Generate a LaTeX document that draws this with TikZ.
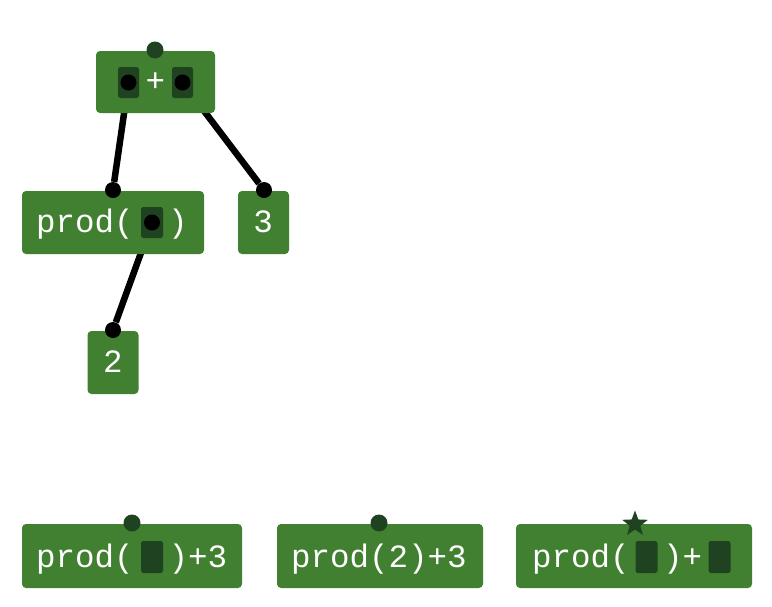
\documentclass[tikz,border=0pt]{standalone}
\usepackage{fontspec}
\newfontfamily\codefont{Liberation Mono}
\usetikzlibrary{shapes.geometric,backgrounds}
\definecolor{boxgreen}{HTML}{408030}
\definecolor{holegreen}{HTML}{1F4220}
\tikzset{
    block/.style={fill=boxgreen, rounded corners=4pt, inner sep=0pt, minimum height=63pt},
    hole/.style={fill=holegreen, rounded corners=2.5pt, inner sep=0pt, minimum width=21pt, minimum height=31pt},
    plug/.style={circle, fill=black, inner sep=0pt, minimum size=16pt},
    knob/.style={circle, fill=holegreen, inner sep=0pt, minimum size=17pt},
    codetext/.style={text=white, inner sep=0pt, font=\codefont\fontsize{32.5}{36}\selectfont},
    wire/.style={line width=6.5pt, black}
}
\begin{document}
\begin{tikzpicture}[x=1pt,y=-1pt]
        \useasboundingbox (0,0) rectangle (772,606);

        %%%%%%%% Albero %%%%%%%%%
        \node[block, minimum width=119pt, minimum height=62pt] (plus) at (155.5,82) {};
        \node[hole] (plusl) at (128.5,82.5) {};
        \node[hole] (plusr) at (182.5,82.5) {};
        \node[codetext] (plusop) at (155.5,82) {+};
        \node[knob] (plustop) at (155,50) {};
        \node[plug] (plusla) at (plusl) {};
        \node[plug] (plusra) at (plusr) {};

        \node[block, minimum width=182pt] (prod) at (113,222.5) {};
        \node[hole, minimum width=22pt] (prodh) at (152,222.5) {};
        \node[codetext, anchor=base west] (prodname) at (36,232) {prod(};
        \node[codetext, anchor=base] (prodclose) at (178,232) {)};
        \node[plug] (prodtop) at (113,190) {};
        \node[plug] (proda) at (prodh) {};

        \node[block, minimum width=51pt] (three) at (263.5,222.5) {};
        \node[codetext, anchor=base] (threetext) at (263,232) {3};
        \node[plug] (threetop) at (264,190) {};

        \node[block, minimum width=51pt] (two) at (113,362.5) {};
        \node[codetext, anchor=base] (twotext) at (113,372) {2};
        \node[plug] (twotop) at (113,330) {};

        \begin{scope}[on background layer]
            \draw[wire] (plusla) -- (prodtop);
            \draw[wire] (plusra) -- (threetop);
            \draw[wire] (proda) -- (twotop);
        \end{scope}

        %%%%%%%% Riga in basso %%%%%%%%%
        \node[block, minimum width=220pt, minimum height=64pt] (first) at (132,556) {};
        \node[block, minimum width=206pt, minimum height=64pt] (second) at (380,556) {};
        \node[block, minimum width=236pt, minimum height=64pt] (third) at (634,556) {};

        \foreach \x in {152,646.5,719.5}
            \node[hole, minimum width=22pt, minimum height=32pt] (hole\x) at (\x,557) {};

        \foreach \x in {36,532}
            \node[codetext, anchor=base west] (name\x) at (\x,567) {prod(};

        \node[codetext, anchor=base] (firsttail) at (198,567) {)+3};
        \node[codetext, anchor=base] (secondtext) at (379,567) {prod(2)+3};
        \node[codetext, anchor=base] (thirdtail) at (682.5,567) {)+};

        \node[knob] (firsttop) at (132,523) {};
        \node[knob] (secondtop) at (379,523) {};
        \node[star, star points=5, star point ratio=2.4, fill=holegreen, inner sep=0pt, minimum size=27pt] (thirdtop) at (635,524) {};

    \end{tikzpicture}
\end{document}
